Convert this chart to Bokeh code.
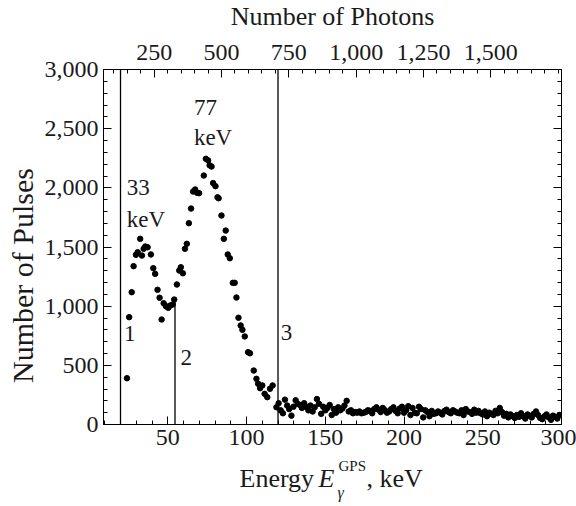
import math
from bokeh.plotting import figure
from bokeh.layouts import column, row
from bokeh.models import (LinearAxis, Range1d, FixedTicker, SingleIntervalTicker,
                          NumeralTickFormatter, CustomJSTickFormatter, ColumnDataSource)
from bokeh.core.properties import value
from bokeh.embed import file_html
from bokeh.resources import INLINE

# ---- measured spectrum: energy (keV) and number of pulses per channel ----
energy_peak = [24.1, 25.5, 27.1, 28.3, 29.8, 30.9, 32.5, 33.6, 34.7, 35.7, 37.2, 39.3,
               40.8, 42.0, 43.5, 44.8, 46.1, 47.4, 48.8, 50.3, 51.5, 53.1, 54.1, 55.8,
               57.3, 58.3, 59.6, 60.9, 62.1, 63.4, 64.8, 66.1, 67.4, 68.6, 69.9, 72.9,
               74.2, 75.6, 76.6, 77.8, 78.8, 80.3, 81.6, 82.3, 84.1, 85.6, 86.8, 88.1,
               89.4, 91.3, 92.5, 93.6, 94.9, 96.3, 97.4, 98.9, 101.0, 102.2, 104.6, 106.3,
               107.4, 108.6, 110.0, 111.5, 113.2, 114.9, 116.6]
pulses_peak = [391, 907, 1118, 1338, 1434, 1456, 1569, 1428, 1485, 1504, 1498, 1437,
               1321, 1273, 1138, 1071, 887, 1025, 1000, 986, 1005, 1014, 1056, 1183,
               1301, 1329, 1278, 1485, 1527, 1701, 1825, 1969, 1986, 1958, 1955, 2104,
               2245, 2232, 2190, 2180, 2040, 2014, 1920, 1912, 1766, 1569, 1639, 1437,
               1405, 1197, 1197, 1073, 902, 837, 800, 744, 611, 602, 456, 386,
               344, 307, 330, 259, 231, 302, 330]

energy_tail = [119.0, 120.4, 121.7, 123.1, 124.4, 125.8, 127.1, 128.5, 129.8, 131.2,
               132.5, 133.9, 135.2, 136.6, 137.9, 139.3, 140.6, 142.0, 143.3, 144.7,
               146.0, 147.4, 148.7, 150.1, 151.4, 152.8, 154.1, 155.5, 156.8, 158.2,
               159.5, 160.9, 162.2, 163.6, 164.9, 166.3, 167.6, 169.0, 170.3, 171.7,
               173.0, 174.4, 175.7, 177.1, 178.4, 179.8, 181.1, 182.5, 183.8, 185.2,
               186.5, 187.9, 189.2, 190.6, 191.9, 193.3, 194.6, 196.0, 197.3, 198.7,
               200.0, 201.4, 202.7, 204.1, 205.4, 206.8, 208.1, 209.5, 210.8, 212.2,
               213.5, 214.9, 216.2, 217.6, 218.9, 220.3, 221.6, 223.0, 224.3, 225.7,
               227.0, 228.4, 229.7, 231.1, 232.4, 233.8, 235.1, 236.5, 237.8, 239.2,
               240.5, 241.9, 243.2, 244.6, 245.9, 247.3, 248.6, 250.0, 251.4, 252.7,
               254.1, 255.4, 256.8, 258.1, 259.5, 260.8, 262.2, 263.5, 264.9, 266.2,
               267.6, 268.9, 270.3, 271.6, 273.0, 274.3, 275.7, 277.0, 278.4, 279.7,
               281.1, 282.4, 283.8, 285.1, 286.5, 287.8, 289.2, 290.5, 291.9, 293.3,
               294.6, 296.0, 297.3, 298.7]
pulses_tail = [146, 180, 120, 95, 210, 160, 130, 75, 150, 205,
               175, 165, 140, 180, 150, 120, 160, 110, 145, 215,
               175, 90, 150, 120, 140, 165, 80, 130, 100, 145,
               120, 135, 160, 200, 110, 120, 95, 105, 100, 110,
               95, 100, 105, 120, 115, 95, 130, 145, 125, 105,
               140, 120, 100, 110, 130, 145, 115, 95, 135, 150,
               100, 120, 155, 80, 140, 100, 95, 150, 130, 60,
               120, 105, 70, 115, 90, 95, 110, 100, 85, 115,
               125, 105, 95, 120, 110, 100, 95, 120, 80, 130,
               110, 105, 90, 125, 100, 115, 95, 85, 110, 70,
               100, 90, 80, 115, 95, 140, 105, 75, 90, 60,
               85, 70, 55, 80, 65, 95, 70, 50, 85, 75,
               60, 90, 110, 80, 55, 45, 70, 85, 60, 40,
               75, 65, 50, 80]

# threshold / window markers (keV) and the height each line reaches
marker_energy = [20.0, 54.6, 120.0]
marker_top = [3000, 1040, 3000]
marker_names = ["1", "2", "3"]

# peak annotations
peak_energy = [33, 77]

# axis ranges and ticks
X_LO, X_HI = 9.2, 300.0
Y_LO, Y_HI = 0, 3000
PH_LO, PH_HI = 61.6, 1762.8          # photon-number scale of the top axis
photon_ticks = [250, 500, 750, 1000, 1250, 1500]

FONT = "Liberation Serif"
INK = "#1a1a1a"

# page pieces: title strip on top, y-title strip on the left, x-title strip at the bottom
W, H = 576, 506
TOP_H, LEFT_W, BOT_H = 32, 40, 50
MAIN_W, MAIN_H = W - LEFT_W, H - TOP_H - BOT_H
FRAME_L, FRAME_T, FRAME_B = 103, 69, 424


def strip(w, h):
    f = figure(width=w, height=h, x_range=Range1d(0, w), y_range=Range1d(0, h),
               output_backend="svg", toolbar_location=None,
               x_axis_location=None, y_axis_location=None, min_border=0)
    f.grid.visible = False
    f.outline_line_color = None
    f.background_fill_color = "white"
    f.border_fill_color = "white"
    return f


p = figure(width=MAIN_W, height=MAIN_H, x_range=Range1d(X_LO, X_HI),
           y_range=Range1d(Y_LO, Y_HI), output_backend="svg", toolbar_location=None,
           x_axis_location=None, y_axis_location=None,
           min_border_left=FRAME_L - LEFT_W, min_border_right=15,
           min_border_top=FRAME_T - TOP_H, min_border_bottom=TOP_H + MAIN_H - FRAME_B)
p.extra_x_ranges = {"photons": Range1d(PH_LO, PH_HI)}
p.grid.visible = False
p.outline_line_color = "black"
p.outline_line_width = 1
p.background_fill_color = "white"
p.border_fill_color = "white"


def style(ax, standoff=5):
    ax.axis_line_color = "black"
    ax.major_tick_line_color = "black"
    ax.minor_tick_line_color = "black"
    ax.major_tick_in = 8
    ax.major_tick_out = 0
    ax.minor_tick_in = 4
    ax.minor_tick_out = 0
    ax.major_label_text_font = FONT
    ax.major_label_text_font_size = "24px"
    ax.major_label_text_color = INK
    ax.major_label_standoff = standoff


bottom = LinearAxis(ticker=SingleIntervalTicker(interval=50, num_minor_ticks=5))
style(bottom, standoff=5)
p.add_layout(bottom, "below")

left = LinearAxis(ticker=SingleIntervalTicker(interval=500, num_minor_ticks=5),
                  formatter=NumeralTickFormatter(format="0,0"))
style(left, standoff=5)
p.add_layout(left, "left")

# mirrored ticks on the right, without numbers
right = LinearAxis(ticker=SingleIntervalTicker(interval=500, num_minor_ticks=5),
                   formatter=CustomJSTickFormatter(code="return ''"))
style(right, standoff=0)
p.add_layout(right, "right")

top = LinearAxis(x_range_name="photons",
                 ticker=FixedTicker(ticks=photon_ticks, minor_ticks=list(range(100, 1751, 50))),
                 formatter=NumeralTickFormatter(format="0,0"))
style(top, standoff=10)
p.add_layout(top, "above")

# marker lines
p.segment(x0=marker_energy, y0=[0] * 3, x1=marker_energy, y1=marker_top,
          line_color="black", line_width=1.3)

# spectrum points
src = ColumnDataSource(dict(e=energy_peak + energy_tail, n=pulses_peak + pulses_tail))
p.scatter("e", "n", source=src, size=5.5, color="black")

# marker numbers
p.text(x=[marker_energy[0] + 2.2, marker_energy[1] + 3.5, marker_energy[2] + 1.8],
       y=[770, 566, 777], text=marker_names,
       text_font=value(FONT), text_font_size="23px", text_color=INK,
       text_align="left", text_baseline="middle")

# peak labels
p.text(x=[peak_energy[0] - 9, peak_energy[0] - 9], y=[2003, 1732],
       text=[f"{peak_energy[0]}", "keV"],
       text_font=value(FONT), text_font_size="23px", text_color=INK,
       text_align="left", text_baseline="middle")
p.text(x=[peak_energy[1] - 10.4, peak_energy[1] - 10.4], y=[2681, 2425],
       text=[f"{peak_energy[1]}", "keV"],
       text_font=value(FONT), text_font_size="23px", text_color=INK,
       text_align="left", text_baseline="middle")

# top title (y given as the text centre, px from the page top)
t_top = strip(W, TOP_H)
t_top.text(x=[(FRAME_L + W - 15) / 2], y=[TOP_H - 16], text=["Number of Photons"],
           text_font=value(FONT), text_font_size="26px", text_color=INK,
           text_align="center", text_baseline="middle")

# y-axis title
t_left = strip(LEFT_W, MAIN_H)
t_left.text(x=[22], y=[TOP_H + MAIN_H - 278], text=["Number of Pulses"],
            text_font=value(FONT), text_font_size="30px", text_color=INK,
            text_align="center", text_baseline="middle", angle=math.pi / 2)

# x-axis title: Energy E_gamma^GPS, keV
t_bot = strip(W, BOT_H)


def piece(txt, x, centre, size, style_="normal"):
    t_bot.text(x=[x], y=[H - centre], text=[txt], text_font=value(FONT),
               text_font_size=size, text_font_style=style_, text_color=INK,
               text_align="left", text_baseline="middle")


piece("Energy", 239, 478, "26px")
piece("E", 318, 478, "26px", "italic")
piece("GPS", 338, 465, "15px")
piece("\u03b3", 337, 492, "16px", "italic")
piece(", keV", 366, 478, "26px")

layout = column(t_top, row(t_left, p), t_bot)
open("out.html", "w").write(file_html(layout, INLINE))
